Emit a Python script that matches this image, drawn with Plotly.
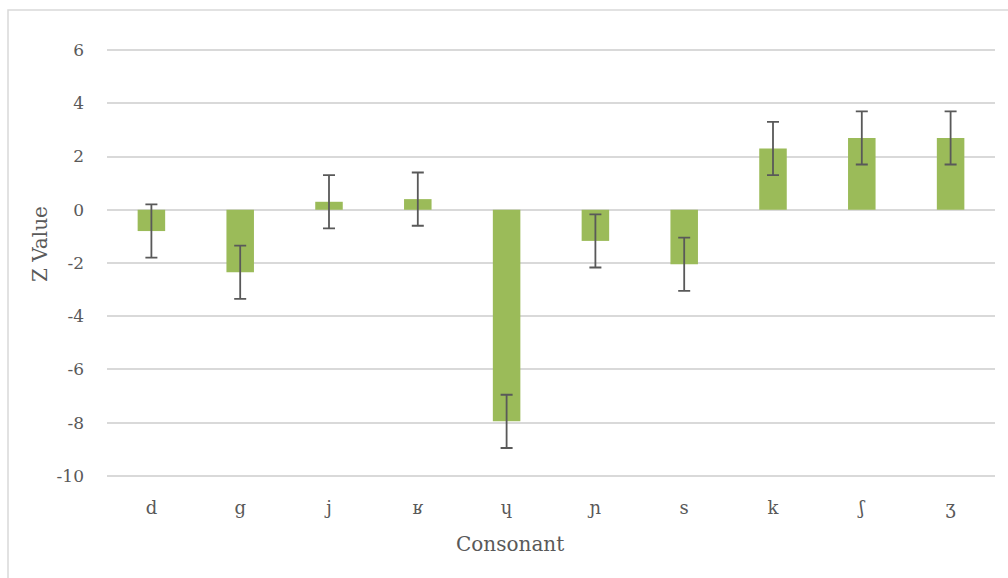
import plotly.graph_objects as go

consonants = ["d", "g", "j", "ʁ", "ɥ", "ɲ", "s", "k", "ʃ", "ʒ"]
z_values = [-0.8, -2.35, 0.3, 0.4, -7.95, -1.17, -2.05, 2.3, 2.7, 2.7]
errors = [1, 1, 1, 1, 1, 1, 1, 1, 1, 1]
y_ticks = [-10, -8, -6, -4, -2, 0, 2, 4, 6]
y_tick_labels = ["-10", "-8", "-6", "-4", "-2", "0", "2", "4", "6"]

FONT = "DejaVu Serif, Liberation Serif, serif"
GRAY = "#595959"

fig = go.Figure(go.Bar(
    x=consonants, y=z_values,
    marker=dict(color="#9BBB59", line=dict(width=0)),
    width=0.31,
    error_y=dict(type="data", array=errors, visible=True,
                 color=GRAY, thickness=1.8, width=6),
))

W, H = 1008, 578
L, R, T, B = 107, 13, 49, 101
pw, ph = W - L - R, H - T - B

fig.update_layout(
    width=W, height=H,
    margin=dict(l=L, r=R, t=T, b=B),
    paper_bgcolor="white", plot_bgcolor="white",
    showlegend=False,
    font=dict(family=FONT, color=GRAY, size=17),
    xaxis=dict(showgrid=False, showline=False, zeroline=False,
               tickfont=dict(size=18, family=FONT, color=GRAY),
               ticklabelstandoff=18),
    yaxis=dict(range=[-10.04, 6.04], tickvals=y_ticks, ticktext=y_tick_labels,
               showgrid=True,
               gridcolor="#D9D9D9", gridwidth=1.5,
               zeroline=True, zerolinecolor="#D9D9D9", zerolinewidth=1.5,
               showline=False,
               tickfont=dict(size=17, family=FONT, color=GRAY),
               ticklabelstandoff=22),
    annotations=[
        dict(text="Z Value", xref="paper", yref="paper",
             x=(40 - L) / pw, y=(H - B - 244) / ph, showarrow=False,
             textangle=-90, font=dict(size=20, family=FONT, color=GRAY),
             xanchor="center", yanchor="middle"),
        dict(text="Consonant", xref="paper", yref="paper",
             x=(510 - L) / pw, y=(H - B - 544) / ph, showarrow=False,
             font=dict(size=20, family=FONT, color=GRAY),
             xanchor="center", yanchor="middle"),
    ],
    shapes=[
        dict(type="rect", xref="paper", yref="paper",
             x0=(8 - L) / pw, x1=(1030 - L) / pw,
             y0=(H - B - 600) / ph, y1=(H - B - 10) / ph,
             line=dict(color="#D9D9D9", width=1.5), fillcolor="rgba(0,0,0,0)",
             layer="below"),
    ],
)

fig.write_html("out.html", config={"displayModeBar": False},
               post_script="document.body.style.margin='0';document.body.style.overflow='hidden';")
